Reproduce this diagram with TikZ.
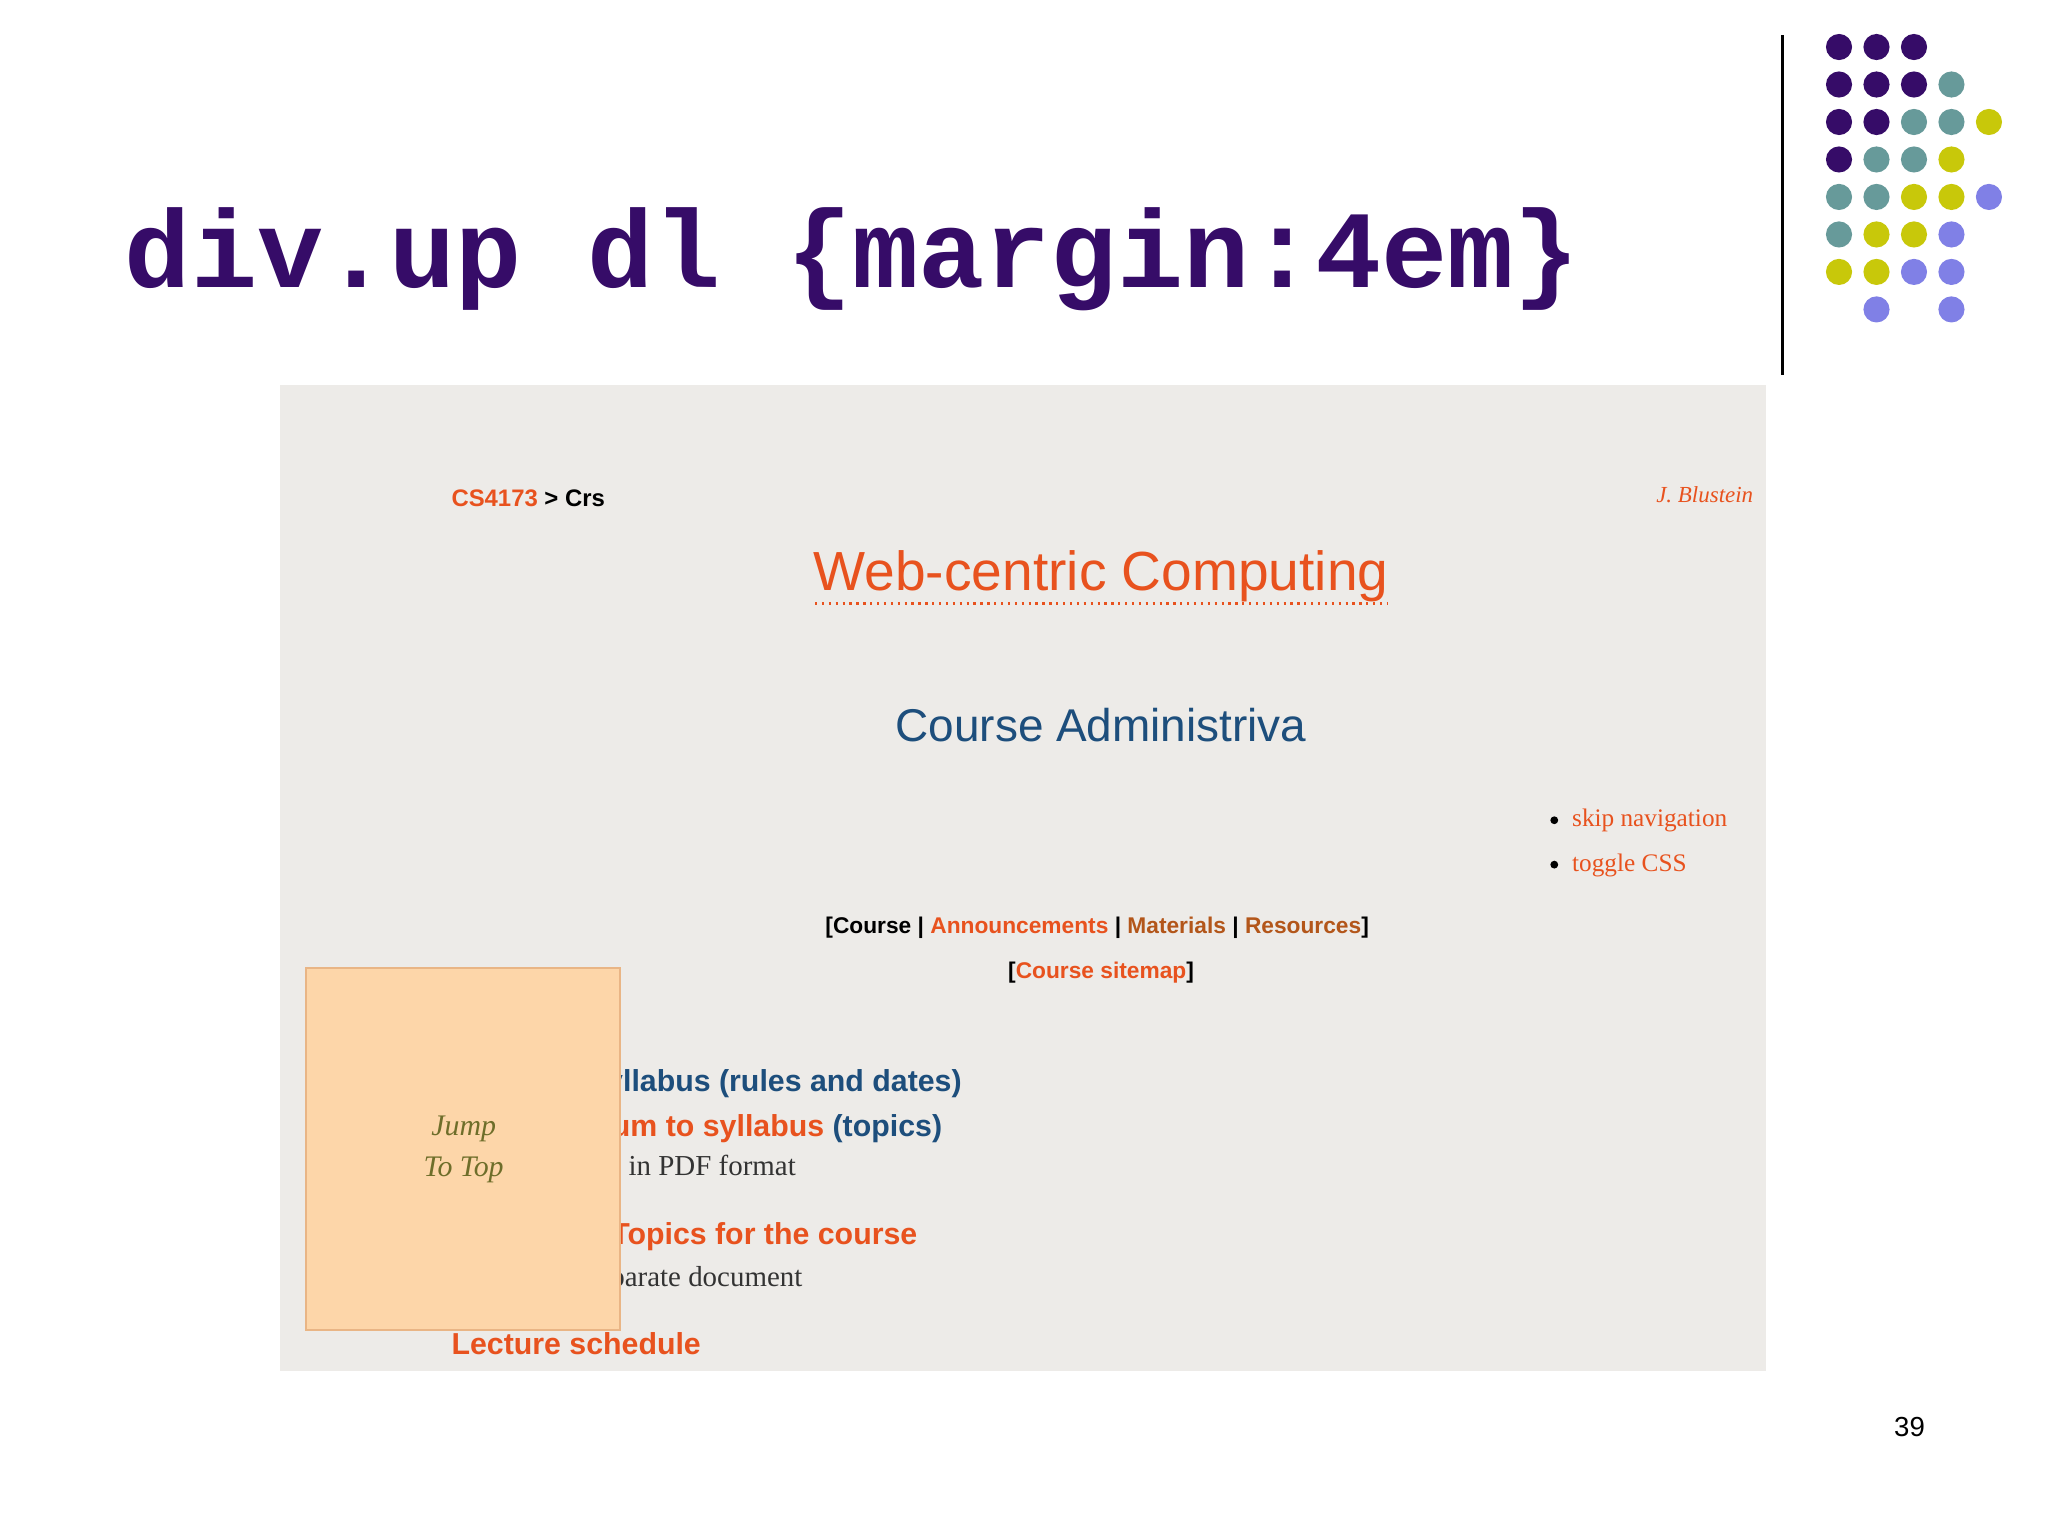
\documentclass[tikz,border=0pt]{standalone}
\usepackage{fontspec}
\setmainfont{Liberation Sans}
\newfontfamily\monob{Liberation Mono}
\newfontfamily\serifx{Liberation Serif}
\definecolor{pur}{HTML}{360C68}
\definecolor{tea}{HTML}{679A9A}
\definecolor{yel}{HTML}{C8C80A}
\definecolor{blu}{HTML}{8080E6}
\definecolor{org}{HTML}{E8521E}
\definecolor{dblue}{HTML}{1D4E7C}
\definecolor{shot}{HTML}{EDEBE8}
\definecolor{boxf}{HTML}{FDD6A9}
\definecolor{boxd}{HTML}{E9B585}
\definecolor{jump}{HTML}{6E6E2A}
\definecolor{brn}{HTML}{B3561A}
\newcommand{\fs}[1]{\fontsize{#1}{#1}\selectfont}
\tikzset{dot/.style={circle,inner sep=0pt,minimum size=0.2cm},
 lbl/.style={inner sep=0pt}}
\begin{document}
\begin{tikzpicture}[x=0.01cm,y=-0.01cm]
\useasboundingbox (0,0) rectangle (1568,1176);
\fill[white] (0,0) rectangle (1568,1176);
% dots
\foreach \c/\x/\y in {pur/0/0,pur/1/0,pur/2/0,
 pur/0/1,pur/1/1,pur/2/1,tea/3/1,
 pur/0/2,pur/1/2,tea/2/2,tea/3/2,yel/4/2,
 pur/0/3,tea/1/3,tea/2/3,yel/3/3,
 tea/0/4,tea/1/4,yel/2/4,yel/3/4,blu/4/4,
 tea/0/5,yel/1/5,yel/2/5,blu/3/5,
 yel/0/6,yel/1/6,blu/2/6,blu/3/6,
 blu/1/7,blu/3/7}
 \node[dot,fill=\c] (d\x\y) at ({1408+28.7*\x},{36+28.7*\y}) {};
\coordinate (vt) at (1365,27); \coordinate (vb) at (1365,287);
\draw[line width=0.6pt] (vt) -- (vb);
\node[lbl,anchor=base west,text=pur] (title) at (95,220) {\monob\bfseries\fs{24pt}div.up dl \{margin:4em\}};
% screenshot
\fill[shot] (214,295) rectangle (1352,1050);
\node[lbl,anchor=base west] (crumb) at (345,388) {\fs{5.2pt}\textcolor{org}{\textbf{CS4173}} \textbf{> Crs}};
\node[lbl,anchor=base east,text=org] (auth) at (1343,385) {\serifx\itshape\fs{5pt}J. Blustein};
\node[lbl,anchor=base,text=org] (wcc) at (843,452) {\fs{12pt}Web-centric Computing};
\draw[org,densely dotted,line width=0.5pt] (624,462) -- (1063,462);
\node[lbl,anchor=base,text=dblue] (ca) at (843,568) {\fs{10pt}Course Administriva};
\node[dot,fill=black,minimum size=0.06cm] (b1) at (1190,628) {};
\node[dot,fill=black,minimum size=0.06cm] (b2) at (1190,662) {};
\node[lbl,anchor=base west,text=org] (skip) at (1203,633) {\serifx\fs{5.5pt}skip navigation};
\node[lbl,anchor=base west,text=org] (tog) at (1203,667) {\serifx\fs{5.5pt}toggle CSS};
\node[lbl,anchor=base] (nav) at (840,715) {\fs{4.95pt}\bfseries[Course | \textcolor{org}{Announcements} | \textcolor{brn}{Materials} | \textcolor{brn}{Resources}]};
\node[lbl,anchor=base] (smap) at (843,749) {\fs{4.95pt}\bfseries[\textcolor{org}{Course sitemap}]};
\node[lbl,anchor=base east] (syl) at (737,836) {\bfseries\fs{6.6pt}\textcolor{dblue}{Syllabus (rules and dates)}};
\node[lbl,anchor=base east] (add) at (722,870) {\bfseries\fs{6.6pt}\textcolor{org}{Addendum to syllabus} \textcolor{dblue}{(topics)}};
\node[lbl,anchor=base east,text=black!80] (pdf) at (610,900) {\serifx\fs{6.3pt}in PDF format};
\node[lbl,anchor=base east,text=org] (top) at (703,953) {\bfseries\fs{6.6pt}Topics for the course};
\node[lbl,anchor=base east,text=black!80] (sep) at (615,985) {\serifx\fs{6.3pt}a separate document};
\node[lbl,anchor=base west,text=org] (lec) at (345,1037) {\bfseries\fs{6.6pt}Lecture schedule};
\draw[boxd,fill=boxf,line width=0.4pt] (234,741) rectangle (475,1018);
\node[lbl,align=center,text=jump,font=\serifx\itshape\fs{6.5pt}] (jt) at (355,880) {Jump\\[2.6pt]To Top};
\node[lbl,anchor=base] (pg) at (1462,1100) {\fs{6pt}39};
\end{tikzpicture}
\end{document}
